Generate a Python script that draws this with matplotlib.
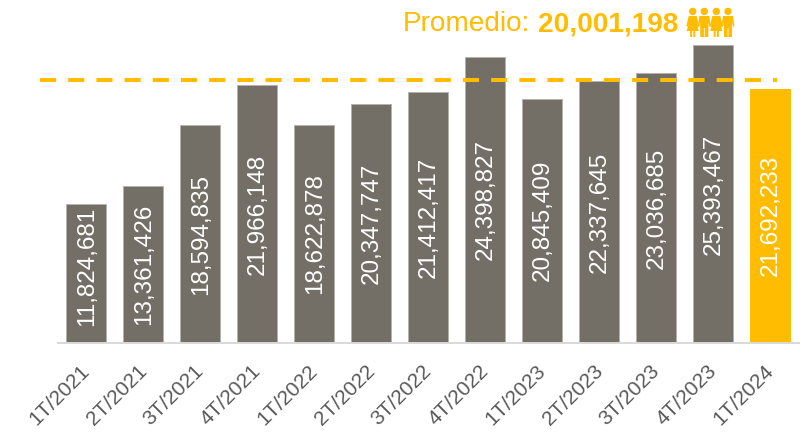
#!/usr/bin/env python3

'''
Quarterly bars with a dashed average line
'''

import matplotlib
matplotlib.use('Agg')
from matplotlib import pyplot as plt
from matplotlib.patches import Circle, Polygon
from matplotlib.transforms import ScaledTranslation

QUARTERS = ['1T/2021', '2T/2021', '3T/2021', '4T/2021',
            '1T/2022', '2T/2022', '3T/2022', '4T/2022',
            '1T/2023', '2T/2023', '3T/2023', '4T/2023', '1T/2024']
VALUES = [11824681, 13361426, 18594835, 21966148,
          18622878, 20347747, 21412417, 24398827,
          20845409, 22337645, 23036685, 25393467, 21692233]
AVERAGE = 20001198
# the dashed line sits higher than the average it is labelled with
LINE_LEVEL = 22450000
# a label does not go lower than this, the shortest bar's is pushed up
LABEL_MIN_CENTER = 6500000
GREY = '#736E66'
GOLD = '#FFBC00'
W, H = 811, 433

plt.rcParams['font.family'] = 'Liberation Sans'


def person(fig, cx, skirt):
    '''
    Small figure of the icon, in pixels from the top left corner
    '''
    def px(x, y):
        return (x / 100, (H - y) / 100)

    fig.add_artist(Circle(px(cx, 11.4), 3.7 / 100, color=GOLD, lw=0,
                          transform=fig.dpi_scale_trans))
    if skirt:
        body = [(-4, 16), (4, 16), (6.4, 26), (5.2, 27), (4, 23),
                (6, 31), (2.6, 31), (2.6, 37), (0.6, 37), (0.6, 31),
                (-0.6, 31), (-0.6, 37), (-2.6, 37), (-2.6, 31), (-6, 31),
                (-4, 23), (-5.2, 27), (-6.4, 26)]
    else:
        body = [(-5, 16), (5, 16), (6.4, 26), (5.2, 27), (4.2, 22),
                (4, 37), (0.4, 37), (0.4, 28), (-0.4, 28), (-0.4, 37),
                (-4, 37), (-4.2, 22), (-5.2, 27), (-6.4, 26)]
    points = [px(cx + x, y) for x, y in body]
    fig.add_artist(Polygon(points, closed=True, color=GOLD, lw=0,
                           transform=fig.dpi_scale_trans))


fig = plt.figure(figsize=(W / 100, H / 100), dpi=100)
ax = fig.add_axes([57.5 / W, 1 - 343 / H, 741 / W, 333 / H])

colors = [GREY] * (len(VALUES) - 1) + [GOLD]
edges = ['#B5B1AB'] * (len(VALUES) - 1) + [GOLD]
positions = list(range(len(VALUES)))
ax.bar(positions, VALUES, width=0.7, color=colors, edgecolor=edges, lw=0.7)

# value labels inside the bars
for x, value in zip(positions, VALUES):
    ax.text(x + 0.018, max(value / 2, LABEL_MIN_CENTER), f'{value:,}',
            rotation=90, color='white', fontsize=17.5,
            ha='center', va='center')

ax.set_xlim(-0.5, 12.5)
ax.set_ylim(0, 333 * 85300)

# dashes of 16 px with gaps of 12 px, starting left of the axes
ax.plot([-0.80, 12.12], [LINE_LEVEL, LINE_LEVEL], color=GOLD, lw=2.9,
        dashes=(4, 3), dash_capstyle='butt', clip_on=False)

ax.set_yticks([])
ax.set_xticks(positions)
ax.set_xticklabels(QUARTERS, rotation=45, ha='right', rotation_mode='anchor',
                   fontsize=15, color='#595959')
ax.tick_params(axis='x', length=0, pad=13)
shift = ScaledTranslation(-6 / 100, 0, fig.dpi_scale_trans)
for label in ax.get_xticklabels():
    label.set_transform(label.get_transform() + shift)
for side in ['top', 'left', 'right']:
    ax.spines[side].set_visible(False)
ax.spines['bottom'].set_color('#D9D9D9')
ax.spines['bottom'].set_linewidth(1.4)

fig.text(403 / W, 1 - 24 / H, 'Promedio:', color=GOLD, fontsize=20.2,
         va='center', ha='left')
fig.text(538 / W, 1 - 24 / H, f'{AVERAGE:,}', color=GOLD, fontsize=20.2,
         fontweight='bold', va='center', ha='left')

for cx, skirt in [(692.7, True), (704.3, False), (716.3, True), (728, False)]:
    person(fig, cx, skirt)

fig.savefig('out.png', dpi=100)
